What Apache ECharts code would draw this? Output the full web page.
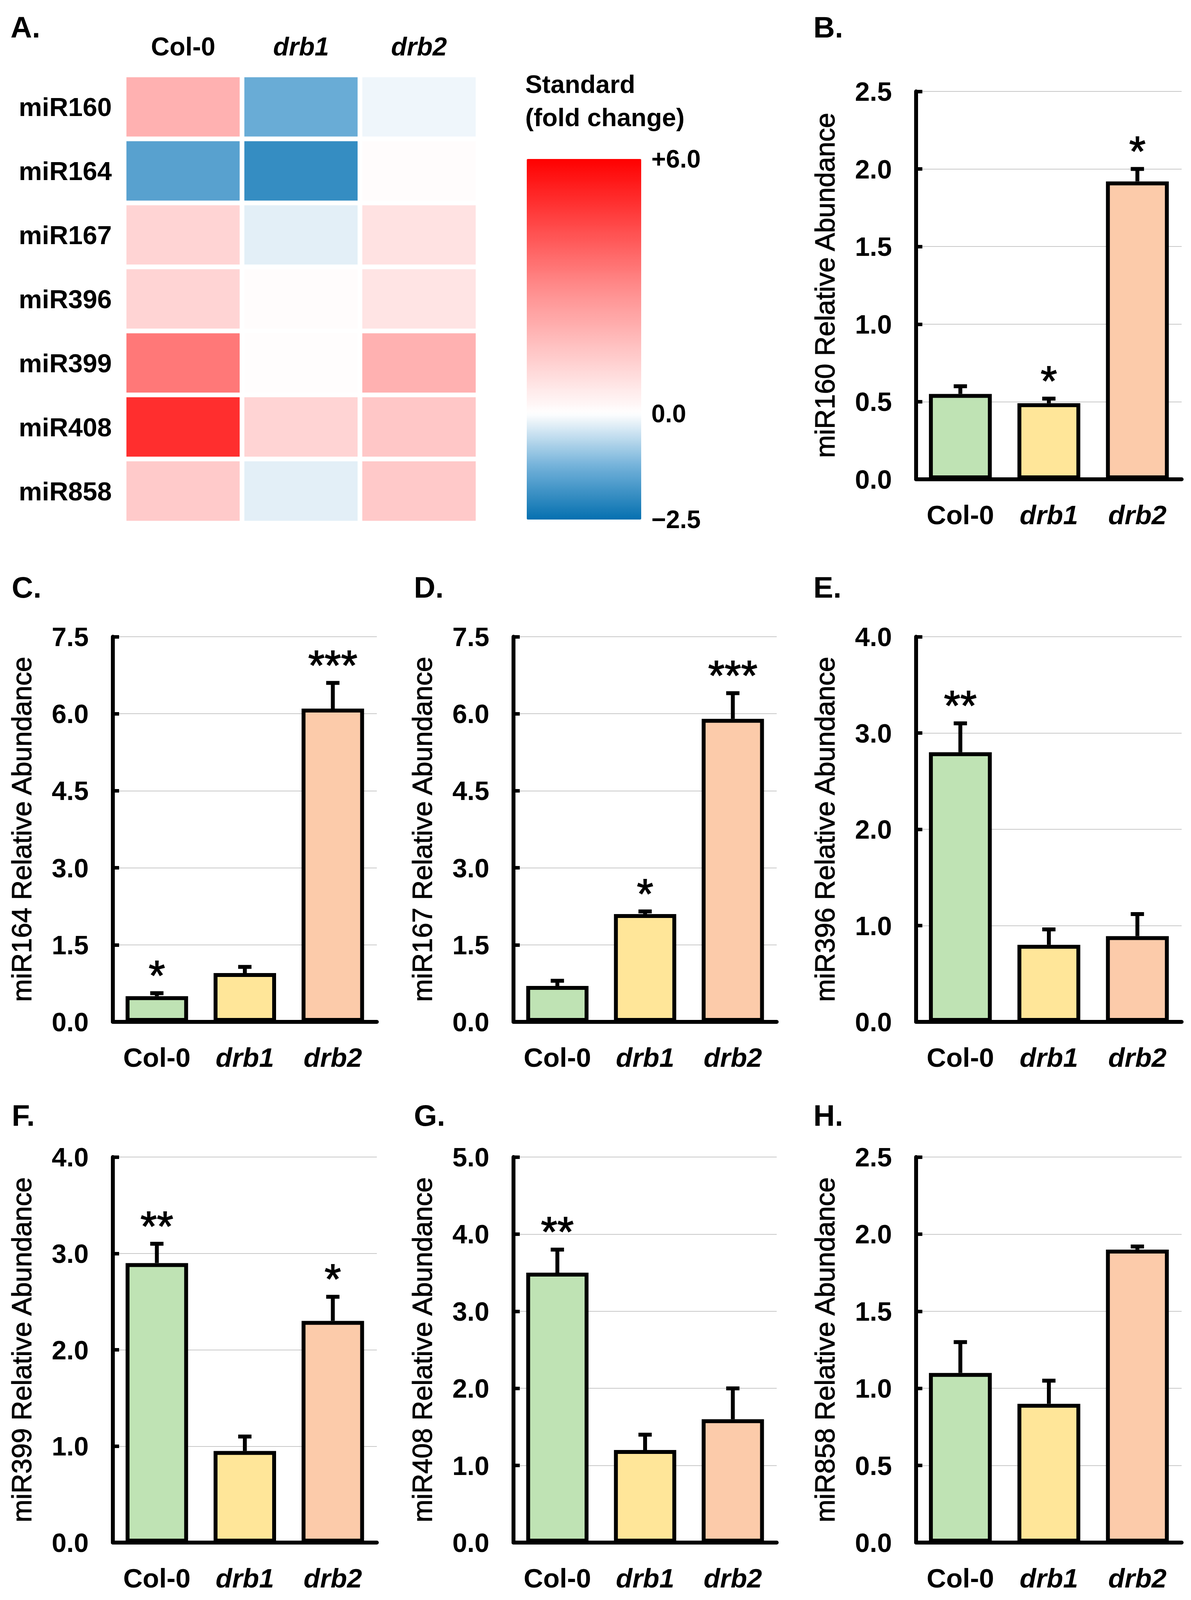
<!DOCTYPE html>
<html>
<head>
<meta charset="utf-8">
<script src="https://cdn.jsdelivr.net/npm/echarts@6/dist/echarts.min.js"></script>
<style>
html,body{margin:0;padding:0;background:#fff;overflow:hidden;}
#chart{width:3050px;height:4141px;}
</style>
</head>
<body>
<div id="chart"></div>
<script>
var groups = ['Col-0', 'drb1', 'drb2'];
var mirnas = ['miR160', 'miR164', 'miR167', 'miR396', 'miR399', 'miR408', 'miR858'];

// A. heatmap, standard fold change per line
var heatCol0 = [2.0, -1.55, 1.1, 1.1, 3.4, 5.0, 1.35];
var heatDrb1 = [-1.35, -1.95, -0.25, 0.07, 0.05, 1.1, -0.25];
var heatDrb2 = [-0.14, 0.07, 0.75, 0.7, 2.0, 1.45, 1.4];
var scaleMin = -2.5, scaleMax = 6.0;
var scaleTicks = [-2.5, 0, 6];

// B.-H. relative abundance (mean, error, significance)
var panelLetters = ['B.', 'C.', 'D.', 'E.', 'F.', 'G.', 'H.'];
var panelMirna = ['miR160', 'miR164', 'miR167', 'miR396', 'miR399', 'miR408', 'miR858'];
var axisMax = [2.5, 7.5, 7.5, 4.0, 4.0, 5.0, 2.5];
var axisStep = [0.5, 1.5, 1.5, 1.0, 1.0, 1.0, 0.5];

var miR160Mean = [0.55, 0.49, 1.92], miR160Err = [0.05, 0.03, 0.08], miR160Sig = ['', '*', '*'];
var miR164Mean = [0.50, 0.95, 6.10], miR164Err = [0.06, 0.12, 0.50], miR164Sig = ['*', '', '***'];
var miR167Mean = [0.70, 2.10, 5.90], miR167Err = [0.10, 0.05, 0.50], miR167Sig = ['', '*', '***'];
var miR396Mean = [2.80, 0.80, 0.89], miR396Err = [0.30, 0.16, 0.23], miR396Sig = ['**', '', ''];
var miR399Mean = [2.90, 0.95, 2.30], miR399Err = [0.20, 0.15, 0.25], miR399Sig = ['**', '', '*'];
var miR408Mean = [3.50, 1.20, 1.60], miR408Err = [0.30, 0.20, 0.40], miR408Sig = ['**', '', ''];
var miR858Mean = [1.10, 0.90, 1.90], miR858Err = [0.20, 0.15, 0.02], miR858Sig = ['', '', ''];

var means = [miR160Mean, miR164Mean, miR167Mean, miR396Mean, miR399Mean, miR408Mean, miR858Mean];
var errs = [miR160Err, miR164Err, miR167Err, miR396Err, miR399Err, miR408Err, miR858Err];
var sigs = [miR160Sig, miR164Sig, miR167Sig, miR396Sig, miR399Sig, miR408Sig, miR858Sig];

var barColors = ['#bfe3b4', '#ffe699', '#fccbaa'];
var F = 'Liberation Sans, Arial, Helvetica, sans-serif';

// the page may get a bit less than the full window; keep the layout proportional to it
var W = window.innerWidth || 3050, H = window.innerHeight || 4141;
var sx = W / 3050, sy = H / 4141;
function X(v) { return Math.round(v * sx); }
function Y(v) { return Math.round(v * sy); }
var box = document.getElementById('chart');
box.style.width = W + 'px';
box.style.height = H + 'px';

// colour ramp: blue -> white at 0 -> red
var stops = [[-2.5, '#0570b0'], [-1.25, '#72b1d9'], [0, '#ffffff'], [3, '#ff8a8a'], [6, '#ff0000']];
function hexRgb(h) {
    return [parseInt(h.substr(1, 2), 16), parseInt(h.substr(3, 2), 16), parseInt(h.substr(5, 2), 16)];
}
function colorAt(v) {
    for (var k = 0; k < stops.length - 1; k++) {
        if (v <= stops[k + 1][0] + 1e-9) {
            var t = (v - stops[k][0]) / (stops[k + 1][0] - stops[k][0]);
            var a = hexRgb(stops[k][1]), b = hexRgb(stops[k + 1][1]);
            return 'rgb(' + [0, 1, 2].map(function (j) { return Math.round(a[j] + (b[j] - a[j]) * t); }).join(',') + ')';
        }
    }
    return stops[stops.length - 1][1];
}
var ramp = [];
for (var s = 0; s <= 34; s++) ramp.push(colorAt(scaleMin + s * 0.25));

var heatData = [];
[heatCol0, heatDrb1, heatDrb2].forEach(function (col, c) {
    col.forEach(function (v, r) { heatData.push([c, r, v]); });
});

function groupLabel(v) {
    return v === 'Col-0' ? '{n|' + v + '}' : '{i|' + v + '}';
}
function groupRich(size) {
    return {
        n: {fontFamily: F, fontWeight: 'bold', fontSize: size, color: '#000'},
        i: {fontFamily: F, fontWeight: 'bold', fontStyle: 'italic', fontSize: size, color: '#000'}
    };
}

var grids = [
    {left: X(318), top: Y(194), width: X(906), height: Y(1160)},   // heatmap
    {left: X(1349), top: Y(411), width: X(293), height: Y(933)}    // colour bar axis
];
var xAxes = [
    {gridIndex: 0, type: 'category', data: groups, position: 'top',
        axisLine: {show: false}, axisTick: {show: false},
        axisLabel: {margin: Y(40), formatter: groupLabel, rich: groupRich(66)}},
    {gridIndex: 1, type: 'value', show: false}
];
var yAxes = [
    {gridIndex: 0, type: 'category', data: mirnas, inverse: true,
        axisLine: {show: false}, axisTick: {show: false},
        axisLabel: {margin: X(270), align: 'left', fontFamily: F, fontWeight: 'bold', fontSize: 67, color: '#000'}},
    {gridIndex: 1, type: 'value', position: 'right', min: scaleMin, max: scaleMax,
        axisLine: {show: false}, axisTick: {show: false}, splitLine: {show: false},
        axisLabel: {margin: X(26), customValues: scaleTicks, fontFamily: F, fontWeight: 'bold', fontSize: 64, color: '#000',
            formatter: function (v) { return v > 0 ? '+' + v.toFixed(1) : (v < 0 ? '\u2212' + Math.abs(v).toFixed(1) : v.toFixed(1)); }}}
];
var series = [
    {type: 'heatmap', xAxisIndex: 0, yAxisIndex: 0, data: heatData,
        itemStyle: {borderColor: '#fff', borderWidth: 12}}
];
var titles = [
    {text: 'A.', left: X(22), top: Y(26), textStyle: {fontFamily: F, fontWeight: 'bold', fontSize: 76, color: '#000'}},
    {text: 'Standard\n(fold change)', left: X(1340), top: Y(170),
        textStyle: {fontFamily: F, fontWeight: 'bold', fontSize: 65, lineHeight: Y(86), color: '#000'}}
];

var colLeft = [289, 1315, 2346], colWidth = [676, 674, 680];
var rowTop = [237, 1648, 2995], rowHeight = [1004, 997, 998];
var letterLeft = [25, 1055, 2078], letterTop = [26, 1476, 2843];
var panelPos = [[2, 0], [0, 1], [1, 1], [2, 1], [0, 2], [1, 2], [2, 2]];

function errRender(sig) {
    return function (params, api) {
        var i = api.value(0), m = api.value(1), e = api.value(2);
        var p0 = api.coord([i, m]), p1 = api.coord([i, m + e]);
        var kids = [
            {type: 'line', shape: {x1: p0[0], y1: p0[1], x2: p1[0], y2: p1[1]}, style: {stroke: '#000', lineWidth: 10}},
            {type: 'line', shape: {x1: p1[0] - 17, y1: p1[1], x2: p1[0] + 17, y2: p1[1]}, style: {stroke: '#000', lineWidth: 10}}
        ];
        if (sig[i]) {
            kids.push({type: 'text', style: {text: sig[i], x: p1[0], y: p1[1] - Y(47), align: 'center', verticalAlign: 'middle',
                fontFamily: F, fontSize: 108, fill: '#000', stroke: '#000', lineWidth: 2}});
        }
        return {type: 'group', children: kids};
    };
}

panelMirna.forEach(function (name, k) {
    var g = k + 2, c = panelPos[k][0], r = panelPos[k][1];
    grids.push({left: X(colLeft[c]), top: Y(rowTop[r]), width: X(colWidth[c]), height: Y(rowHeight[r])});
    xAxes.push({gridIndex: g, type: 'category', data: groups,
        axisLine: {lineStyle: {color: '#000', width: 10}}, axisTick: {show: false},
        axisLabel: {margin: Y(58), formatter: groupLabel, rich: groupRich(69)}});
    yAxes.push({gridIndex: g, type: 'value', min: 0, max: axisMax[k], interval: axisStep[k],
        name: name + ' Relative Abundance', nameLocation: 'middle', nameRotate: 90, nameGap: X(198),
        nameTextStyle: {fontFamily: F, fontSize: 70, color: '#000', textBorderColor: '#000', textBorderWidth: 1.2},
        axisLine: {show: true, lineStyle: {color: '#000', width: 10}},
        axisTick: {show: true, inside: true, length: 16, lineStyle: {color: '#000', width: 9}},
        splitLine: {lineStyle: {color: '#c8c8c8', width: 2}},
        axisLabel: {margin: X(62), fontFamily: F, fontWeight: 'bold', fontSize: 68, color: '#000',
            formatter: function (v) { return v.toFixed(1); }}});
    series.push({type: 'bar', xAxisIndex: g, yAxisIndex: g, barCategoryGap: '29%',
        data: means[k].map(function (v, i) { return {value: v, itemStyle: {color: barColors[i]}}; }),
        itemStyle: {borderColor: '#000', borderWidth: 10}});
    series.push({type: 'custom', xAxisIndex: g, yAxisIndex: g, z: 3,
        data: means[k].map(function (v, i) { return [i, v, errs[k][i]]; }),
        encode: {x: 0, y: 1}, renderItem: errRender(sigs[k])});
    titles.push({text: panelLetters[k], left: X(letterLeft[c]), top: Y(letterTop[r]),
        textStyle: {fontFamily: F, fontWeight: 'bold', fontSize: 76, color: '#000'}});
});

var chart = echarts.init(box, null, {renderer: 'svg'});
chart.setOption({
    backgroundColor: '#fff',
    animation: false,
    title: titles,
    grid: grids,
    xAxis: xAxes,
    yAxis: yAxes,
    visualMap: {type: 'continuous', seriesIndex: 0, min: scaleMin, max: scaleMax, calculable: false,
        orient: 'vertical', left: X(1349), top: Y(411), itemWidth: X(293), itemHeight: Y(933), padding: 0,
        text: null, showLabel: false, inRange: {color: ramp}},
    series: series
});
</script>
</body>
</html>
